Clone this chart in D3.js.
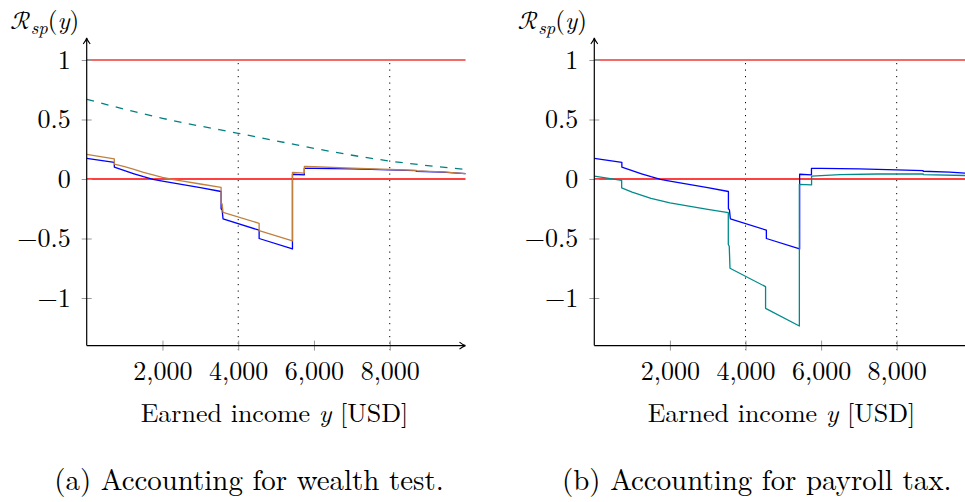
<!DOCTYPE html>
<html>
<head>
<meta charset="utf-8">
<script src="https://cdn.jsdelivr.net/npm/d3@7"></script>
<style>
  html, body { margin: 0; padding: 0; background: #fff; }
</style>
</head>
<body>
<svg id="chart" width="965" height="502"></svg>
<script>
// ---------------- data ----------------
const xTicks = [2000, 4000, 6000, 8000];
const yTicks = [-1, -0.5, 0, 0.5, 1];
const dottedX = [4000, 8000];

// base ratio (blue), used in both panels
const baseIncome = [0, 729, 729, 1000, 1250, 1500, 1750, 2000, 2500, 3000, 3548, 3548, 3575, 3600, 4552, 4552, 5432, 5432, 5745, 5745, 6000, 7000, 8000, 8700, 8700, 9400, 10000];
const baseRatio  = [0.174, 0.14, 0.1, 0.07, 0.044, 0.019, -0.003, -0.018, -0.045, -0.073, -0.105, -0.25, -0.26, -0.336, -0.43, -0.5, -0.588, 0.04, 0.035, 0.09, 0.09, 0.085, 0.076, 0.07, 0.065, 0.057, 0.045];

// wealth-test ratio (brown), left panel
const wealthIncome = [0, 729, 729, 1000, 1250, 1500, 1750, 2000, 2205, 2500, 3000, 3548, 3548, 3575, 3600, 4552, 4552, 5432, 5432, 5745, 5745, 6000, 7000, 8000, 8700, 8700, 9400, 10000];
const wealthRatio  = [0.207, 0.17, 0.125, 0.103, 0.08, 0.056, 0.034, 0.013, 0.0, -0.015, -0.042, -0.07, -0.2, -0.21, -0.28, -0.372, -0.434, -0.52, 0.056, 0.05, 0.105, 0.103, 0.092, 0.08, 0.072, 0.068, 0.06, 0.045];

// upper bound (teal dashed), left panel
const boundIncome = [0, 2000, 4000, 6000, 8000, 10000];
const boundRatio  = [0.67, 0.51, 0.384, 0.258, 0.151, 0.081];

// payroll-tax ratio (teal), right panel
const payrollIncome = [0, 724, 724, 1000, 1500, 2000, 2500, 3000, 3545, 3545, 3570, 3590, 4531, 4531, 5425, 5425, 5748, 5748, 6500, 7500, 8700, 8700, 10000];
const payrollRatio  = [0.025, -0.012, -0.075, -0.11, -0.162, -0.2, -0.228, -0.255, -0.283, -0.55, -0.565, -0.75, -0.905, -1.087, -1.235, -0.045, -0.05, 0.025, 0.037, 0.042, 0.042, 0.037, 0.028];

const captions = ["(a) Accounting for wealth test.", "(b) Accounting for payroll tax."];
const xTitle = ["Earned income ", "y", " [USD]"];

// ---------------- drawing ----------------
const svg = d3.select("#chart");
const FONT = "'Latin Modern Roman', 'Liberation Serif', serif";
const FS = 26;
const zip = (xs, ys) => xs.map((x, i) => [x, ys[i]]);

const panels = [
  { x0: 86.7, x1: 465.5, capCx: 249, labCx: 274.5,
    series: [
      { d: zip(boundIncome, boundRatio), color: "#008080", dash: "7.5,7.5", curve: d3.curveNatural },
      { d: zip(baseIncome, baseRatio), color: "#0000ff" },
      { d: zip(wealthIncome, wealthRatio), color: "#bf8040" }
    ] },
  { x0: 594.3, x1: 972.3, capCx: 756.7, labCx: 781.5,
    series: [
      { d: zip(baseIncome, baseRatio), color: "#0000ff" },
      { d: zip(payrollIncome, payrollRatio), color: "#008b8b" }
    ] }
];

const y = d3.scaleLinear().domain([0, 1]).range([179, 60]);
const yBottom = y(-1.4);
const yTop = 38;

panels.forEach((p, pi) => {
  const x = d3.scaleLinear().domain([0, 10000]).range([p.x0, p.x1]);
  const g = svg.append("g");

  // dotted verticals
  g.selectAll(".dot").data(dottedX).join("line")
    .attr("x1", d => x(d)).attr("x2", d => x(d))
    .attr("y1", y(1) + 3).attr("y2", yBottom + 4)
    .attr("stroke", "#000").attr("stroke-width", 1)
    .attr("stroke-dasharray", "1.2,5.3");

  // reference lines
  g.append("line").attr("x1", x(0)).attr("x2", x(10000))
    .attr("y1", y(1)).attr("y2", y(1))
    .attr("stroke", "#f26b6b").attr("stroke-width", 2.2);
  g.append("line").attr("x1", x(0)).attr("x2", x(10000))
    .attr("y1", y(0)).attr("y2", y(0))
    .attr("stroke", "#ff0000").attr("stroke-width", 1.3);

  // axes
  const ax = d3.axisBottom(x).tickValues(xTicks).tickSize(5).tickFormat(d3.format(","));
  const xg = g.append("g").attr("transform", `translate(0,${yBottom})`).call(ax);
  xg.select(".domain").remove();
  xg.selectAll(".tick line").attr("y1", -5).attr("y2", 5).attr("stroke", "#999");
  xg.selectAll(".tick text").attr("y", 34.4).attr("dy", null)
    .style("font-family", FONT).style("font-size", FS + "px").attr("fill", "#000");

  const ay = d3.axisLeft(y).tickValues(yTicks).tickSize(5)
    .tickFormat(d => d < 0 ? "\u2212" + Math.abs(d) : String(d));
  const yg = g.append("g").attr("transform", `translate(${x(0)},0)`).call(ay);
  yg.select(".domain").remove();
  yg.selectAll(".tick line").attr("x1", -5).attr("x2", 5).attr("stroke", "#999");
  yg.selectAll(".tick text").attr("x", -16).attr("dy", "0.32em")
    .style("font-family", FONT).style("font-size", FS + "px").attr("fill", "#000");

  // series
  p.series.forEach(s => {
    const line = d3.line().x(d => x(d[0])).y(d => y(d[1])).curve(s.curve || d3.curveLinear);
    g.append("path").attr("d", line(s.d)).attr("fill", "none")
      .attr("stroke", s.color).attr("stroke-width", 1.3)
      .attr("stroke-dasharray", s.dash || null)
      .attr("stroke-linejoin", "round");
  });

  // axis lines with arrows
  g.append("line").attr("x1", x(0)).attr("x2", x(0)).attr("y1", yBottom).attr("y2", yTop + 1)
    .attr("stroke", "#000").attr("stroke-width", 1.2);
  g.append("line").attr("x1", x(0)).attr("x2", x(10000) - 1).attr("y1", yBottom).attr("y2", yBottom)
    .attr("stroke", "#000").attr("stroke-width", 1.2);
  g.append("path")
    .attr("d", `M${x(0) - 3.5},${yTop + 6} Q${x(0) - 0.6},${yTop + 2.5} ${x(0)},${yTop} Q${x(0) + 0.6},${yTop + 2.5} ${x(0) + 3.5},${yTop + 6}`)
    .attr("fill", "none").attr("stroke", "#000").attr("stroke-width", 1.1);
  const xe = x(10000);
  g.append("path")
    .attr("d", `M${xe - 6},${yBottom - 3.5} Q${xe - 2.5},${yBottom - 0.6} ${xe},${yBottom} Q${xe - 2.5},${yBottom + 0.6} ${xe - 6},${yBottom + 3.5}`)
    .attr("fill", "none").attr("stroke", "#000").attr("stroke-width", 1.1);

  // y label  R_sp(y)
  const yl = g.append("text").attr("x", p.x0 - 76.5).attr("y", 28.5)
    .style("font-family", FONT).style("font-size", "25px");
  yl.append("tspan").style("font-family", "'Latin Modern Math', " + FONT).text("\u211B");
  yl.append("tspan").style("font-style", "italic").style("font-size", "18.5px").attr("dy", 5).text("sp");
  yl.append("tspan").attr("dy", -5).text("(");
  yl.append("tspan").style("font-style", "italic").text("y");
  yl.append("tspan").text(")");

  // x label
  const xl = g.append("text").attr("x", p.labCx).attr("y", 421.5)
    .style("font-family", FONT).style("font-size", FS + "px").attr("text-anchor", "middle");
  xl.selectAll("tspan").data(xTitle).join("tspan")
    .style("font-style", (d, i) => i === 1 ? "italic" : "normal").text(d => d);

  // caption
  svg.append("text").attr("x", p.capCx).attr("y", 490)
    .style("font-family", FONT).style("font-size", "28.9px")
    .attr("text-anchor", "middle").text(captions[pi]);
});
</script>
</body>
</html>
